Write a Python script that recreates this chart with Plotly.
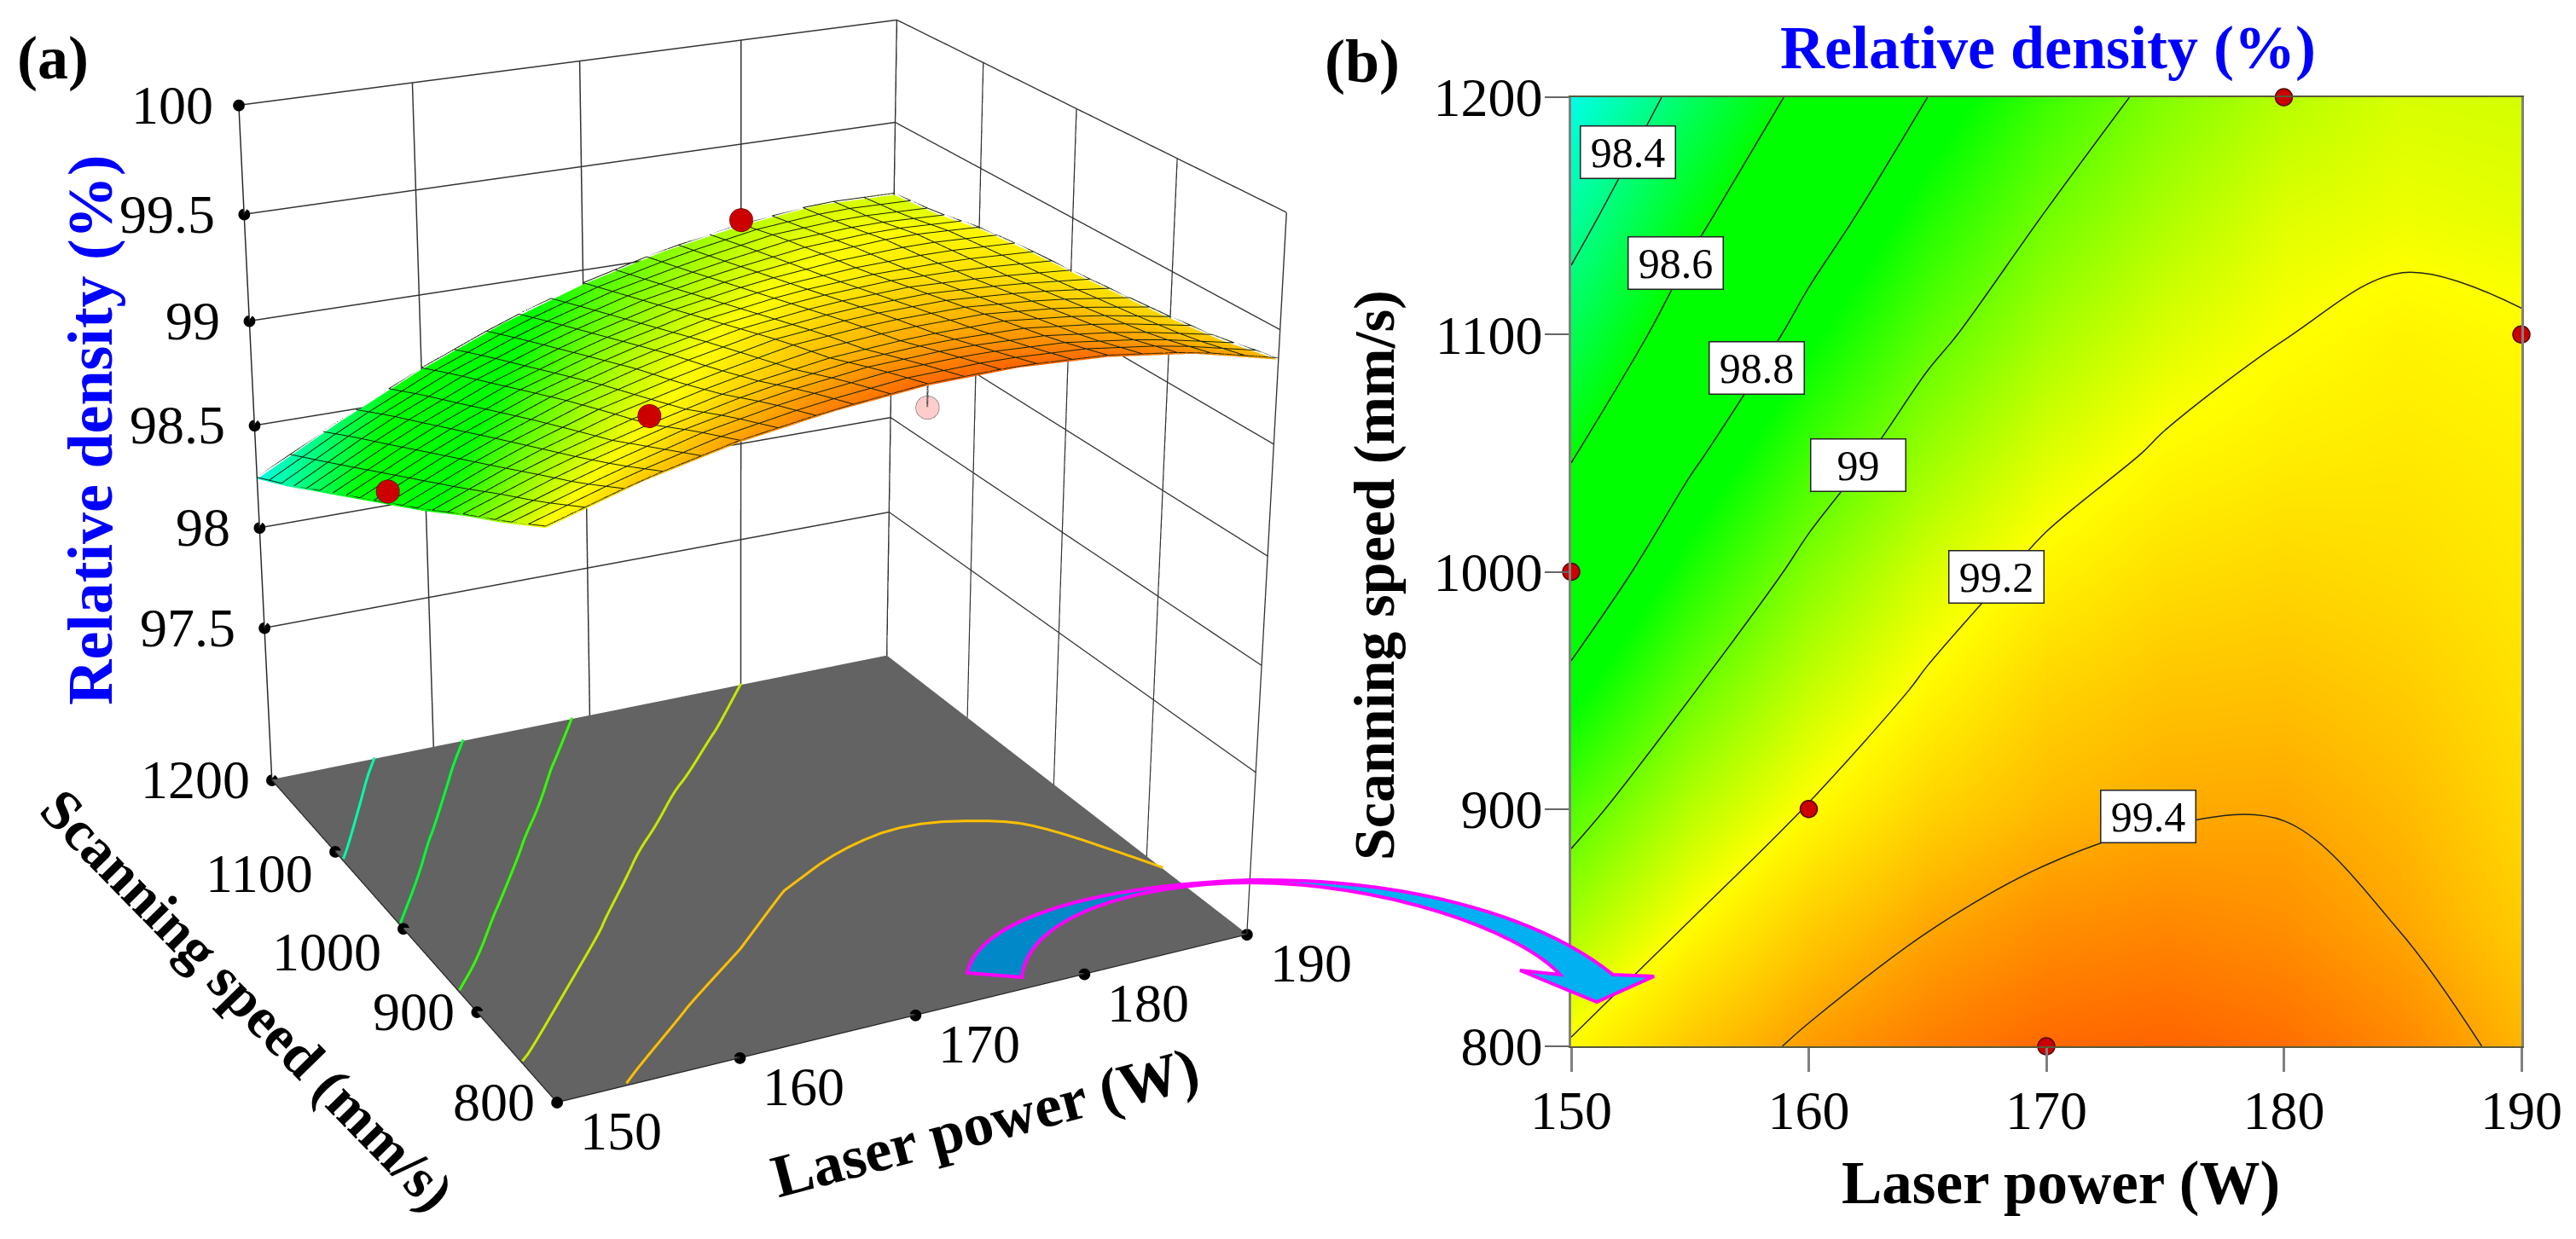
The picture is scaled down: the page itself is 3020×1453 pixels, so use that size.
import plotly.graph_objects as go

W, H = 3020, 1453
FIG_H, OFF = 3923, 1292
power = [150, 155, 160, 165, 170, 175, 180, 185, 190]
speed = [800, 850, 900, 950, 1000, 1050, 1100, 1150, 1200]
density = [
    [99.21, 99.33, 99.42, 99.48, 99.52, 99.53, 99.51, 99.46, 99.37],
    [99.08, 99.207, 99.318, 99.397, 99.445, 99.461, 99.445, 99.397, 99.32],
    [98.96, 99.10, 99.205, 99.30, 99.36, 99.39, 99.395, 99.358, 99.29],
    [98.83, 98.993, 99.12, 99.215, 99.298, 99.336, 99.343, 99.318, 99.27],
    [98.71, 98.886, 99.031, 99.143, 99.225, 99.274, 99.292, 99.278, 99.25],
    [98.59, 98.779, 98.935, 99.059, 99.151, 99.212, 99.24, 99.25, 99.235],
    [98.47, 98.671, 98.838, 98.974, 99.077, 99.15, 99.198, 99.225, 99.21],
    [98.35, 98.565, 98.742, 98.889, 99.004, 99.087, 99.155, 99.177, 99.165],
    [98.24, 98.45, 98.64, 98.80, 98.93, 99.03, 99.10, 99.145, 99.14],
]
color_levels = [98.2, 98.6, 98.85, 99.0, 99.2, 99.35, 99.55]
color_values = ["rgb(0,255,255)", "rgb(0,255,0)", "rgb(0,255,0)", "rgb(110,255,0)",
                "rgb(255,255,0)", "rgb(255,190,0)", "rgb(255,90,0)"]
design_p = [150, 160, 170, 180, 190]
design_s = [1000, 900, 800, 1200, 1100]
above_p = [150, 160, 180]
above_s = [1000, 900, 1200]
above_z = [98.77, 99.25, 99.13]
pink_p = [170]
pink_s = [800]
pink_z = [99.43]
pink_top = [99.52]
hidden_p = [190]
hidden_s = [1100]
hidden_z = [99.1]
z_ticks = [97.5, 98, 98.5, 99, 99.5, 100]
z_tick_text = ["97.5", "98", "98.5", "99", "99.5", "100"]
p_ticks = [150, 160, 170, 180, 190]
s_ticks = [800, 900, 1000, 1100, 1200]
s_label_drop = [0, 0, 27, 26, 0]
label_text = ["98.4", "98.6", "98.8", "99", "99.2", "99.4"]
label_p = [152.4, 154.4, 157.8, 162.1, 167.9, 174.3]
label_s = [1177, 1130, 1086, 1045, 998, 897]
floor_levels = [98.5, 98.7, 98.9, 99.1, 99.3]
floor_colors = ["#00ffaa", "#00ff30", "#30ff00", "#c8e800", "#ffc000"]
mesh_p = list(range(150, 191, 2))
mesh_s = list(range(800, 1201, 20))
ZMIN, ZMAX = 96.72, 100
SW = 1726

stops = [[(v-color_levels[0])/(color_levels[-1]-color_levels[0]), c] for v,c in zip(color_levels,color_values)]

def surface_at(p, s):
    i = min(int((p-power[0])/5), len(power)-2)
    j = min(int((s-speed[0])/50), len(speed)-2)
    u = (p-power[i])/5; v = (s-speed[j])/50
    return ((1-u)*(1-v)*density[j][i] + u*(1-v)*density[j][i+1]
            + (1-u)*v*density[j+1][i] + u*v*density[j+1][i+1])

def smooth(ch, n=2):
    for _ in range(n):
        out=[ch[0]]
        for a,b in zip(ch[:-1],ch[1:]):
            out.append((0.75*a[0]+0.25*b[0],0.75*a[1]+0.25*b[1]))
            out.append((0.25*a[0]+0.75*b[0],0.25*a[1]+0.75*b[1]))
        out.append(ch[-1])
        ch=out
    return ch

def iso_chains(level):
    level += 1e-4
    segs=[]
    Z=density
    for j in range(len(speed)-1):
        for i in range(len(power)-1):
            c=[(power[i],speed[j],Z[j][i]),(power[i+1],speed[j],Z[j][i+1]),(power[i+1],speed[j+1],Z[j+1][i+1]),(power[i],speed[j+1],Z[j+1][i])]
            pts=[]
            for k in range(4):
                a,b=c[k],c[(k+1)%4]
                if (a[2]-level)*(b[2]-level)<0:
                    t=(level-a[2])/(b[2]-a[2])
                    pts.append((round(a[0]+t*(b[0]-a[0]),4),round(a[1]+t*(b[1]-a[1]),3)))
            if len(pts)>=2:
                segs.append([pts[0],pts[1]])
    chains=[]
    while segs:
        ch=segs.pop(0)
        grew=True
        while grew:
            grew=False
            for s in segs:
                if s[0]==ch[-1]: ch.append(s[1])
                elif s[1]==ch[-1]: ch.append(s[0])
                elif s[0]==ch[0]: ch.insert(0,s[1])
                elif s[1]==ch[0]: ch.insert(0,s[0])
                else: continue
                segs.remove(s); grew=True; break
        chains.append(smooth(ch))
    return chains

flat = dict(ambient=1,diffuse=0,specular=0,roughness=1,fresnel=0)
fig = go.Figure()
fig.add_trace(go.Surface(x=[150,190],y=[800,1200],z=[[ZMIN+0.004]*2]*2,colorscale=[[0,"#636363"],[1,"#636363"]],showscale=False,lighting=flat))
fig.add_trace(go.Surface(x=power,y=speed,z=density,colorscale=stops,cmin=color_levels[0],cmax=color_levels[-1],showscale=False,lighting=flat))
LIFT = 0.008
mesh_line = dict(color="#102000",width=2)
for p in mesh_p:
    fig.add_trace(go.Scatter3d(x=[p]*len(mesh_s),y=mesh_s,z=[surface_at(p,s)+LIFT for s in mesh_s],mode="lines",line=mesh_line))
for s in mesh_s:
    fig.add_trace(go.Scatter3d(x=mesh_p,y=[s]*len(mesh_p),z=[surface_at(p,s)+LIFT for p in mesh_p],mode="lines",line=mesh_line))
for lv,col in zip(floor_levels,floor_colors):
    for ch in iso_chains(lv):
        fig.add_trace(go.Scatter3d(x=[c[0] for c in ch],y=[c[1] for c in ch],z=[ZMIN+0.01]*len(ch),mode="lines",line=dict(color=col,width=6)))
fig.add_trace(go.Scatter3d(x=hidden_p,y=hidden_s,z=hidden_z,mode="markers",marker=dict(size=16,color="#ffcccc",line=dict(color="#444",width=1))))
dot=dict(size=8,color="black")
fig.add_trace(go.Scatter3d(x=p_ticks,y=[800]*5,z=[ZMIN]*5,mode="markers",marker=dot))
fig.add_trace(go.Scatter3d(x=[150]*5,y=s_ticks,z=[ZMIN]*5,mode="markers",marker=dot))
fig.add_trace(go.Scatter3d(x=[150]*6,y=[1200]*6,z=z_ticks,mode="markers",marker=dot))
fig.add_trace(go.Scatter3d(x=pink_p*2,y=pink_s*2,z=pink_z+pink_top,mode="lines",line=dict(color="#444",width=4),scene="scene2"))
fig.add_trace(go.Scatter3d(x=above_p,y=above_s,z=above_z,mode="markers",scene="scene2",marker=dict(size=16,color="#cc0000",line=dict(color="#400",width=1))))
fig.add_trace(go.Scatter3d(x=pink_p,y=pink_s,z=pink_z,mode="markers",scene="scene2",marker=dict(size=16,color="#ffcccc",line=dict(color="#444",width=1))))

fig.add_trace(go.Heatmap(x=power,y=speed,z=density,colorscale=stops,zmin=color_levels[0],zmax=color_levels[-1],zsmooth="best",showscale=False,xaxis="x",yaxis="y"))
fig.add_trace(go.Contour(x=power,y=speed,z=density,showscale=False,xaxis="x",yaxis="y",
    contours=dict(coloring="none",start=98.4,end=99.4,size=0.2),line=dict(color="#222",width=1.5,smoothing=1.0)))
fig.add_trace(go.Scatter(x=design_p,y=design_s,mode="markers",cliponaxis=False,xaxis="x",yaxis="y",marker=dict(size=20,color="#cc0000",line=dict(color="#500",width=1.5))))

axis3d = dict(showbackground=True,backgroundcolor="white",gridcolor="#333333",gridwidth=3,showline=True,linecolor="#222",linewidth=2,
              ticks="",zeroline=False,showspikes=False,title=dict(text=""),showticklabels=False)
TF=dict(family="Liberation Serif",size=64,color="black")
scene_ann=[]
for v,t in zip(z_ticks,z_tick_text):
    scene_ann.append(dict(x=150,y=1200,z=v,text=t,showarrow=False,xanchor="right",xshift=-28 if v==100 else -32,font=TF))
for v,d in zip(s_ticks,s_label_drop):
    scene_ann.append(dict(x=150,y=v,z=ZMIN,text=str(v),showarrow=False,xanchor="right",xshift=-24,yshift=-d,font=TF))
for v in p_ticks:
    scene_ann.append(dict(x=v,y=800,z=ZMIN,text=str(v),showarrow=False,xanchor="left",xshift=25,yshift=-34,font=TF))
def py(y): return 1-(y+OFF)/FIG_H
camera=dict(eye=dict(x=-2.2028,y=-4.4873,z=2.0141),center=dict(x=-0.0281,y=-0.0442,z=-0.0548),up=dict(x=0,y=0,z=1),projection=dict(type="perspective"))
aspect=dict(x=1,y=1.016,z=1.0025)
hide=dict(visible=False,showbackground=False,showgrid=False,zeroline=False,showline=False,showticklabels=False,showspikes=False)
fig.update_layout(
    template="none",width=W,height=FIG_H,margin=dict(l=0,r=0,t=0,b=0,autoexpand=False),paper_bgcolor="white",plot_bgcolor="white",showlegend=False,
    scene=dict(domain=dict(x=[0,SW/W],y=[0,1]),aspectmode="manual",aspectratio=aspect,annotations=scene_ann,camera=camera,
        xaxis=dict(axis3d,range=[150,190],tickvals=p_ticks),
        yaxis=dict(axis3d,range=[800,1200],tickvals=s_ticks),
        zaxis=dict(axis3d,range=[ZMIN,ZMAX],tickvals=z_ticks,backgroundcolor="#636363")),
    scene2=dict(domain=dict(x=[0,SW/W],y=[0,1]),aspectmode="manual",aspectratio=aspect,camera=camera,bgcolor="rgba(0,0,0,0)",
        xaxis=dict(hide,range=[150,190]),yaxis=dict(hide,range=[800,1200]),zaxis=dict(hide,range=[ZMIN,ZMAX])),
    xaxis=dict(domain=[1842/W,2956/W],range=[150,190],tickvals=p_ticks,ticks="outside",ticklen=28,tickwidth=2.5,tickcolor="#808080",ticklabelstandoff=-10,showgrid=False,zeroline=False,automargin=False,
               showline=True,mirror=True,linecolor="#5a5a3a",linewidth=2,tickfont=TF),
    yaxis=dict(domain=[py(1227),py(114)],range=[800,1200],tickvals=s_ticks,ticks="outside",ticklen=28,tickwidth=2,tickcolor="#666",ticklabelstandoff=-10,showgrid=False,zeroline=False,automargin=False,
               showline=True,mirror=True,linecolor="#808080",linewidth=2.5,tickfont=TF),
)
ann=[]
def text(t,x,y,size,color="black",angle=0):
    ann.append(dict(text=f"<b>{t}</b>",x=x/W,y=py(y),xref="paper",yref="paper",xanchor="center",yanchor="middle",showarrow=False,textangle=angle,
                    font=dict(family="Liberation Serif",size=size,color=color)))
text("(a)",62,68,72); text("(b)",1597,72,72)
text("Relative density (%)",2401,56,72,"#0000ff")
text("Laser power (W)",2416,1387,71)
text("Scanning speed (mm/s)",1611,674,68,angle=-90)
text("Relative density (%)",106,505,74,"#0000ff",angle=-90)
text("Scanning speed (mm/s)",290,1172,67,angle=45.7)
text("Laser power (W)",1155,1316,71,angle=-14.7)
for t,p,s in zip(label_text,label_p,label_s):
    ann.append(dict(text=t,x=p,y=s,xref="x",yref="y",showarrow=False,bgcolor="white",bordercolor="#222",borderwidth=1.5,width=108,height=58,
                    font=dict(family="Liberation Serif",size=50,color="black")))
fig.update_layout(annotations=ann)

def p_path(s):
    out=[]
    for tok in s.split():
        if tok[0] in "MCLZ":
            out.append(tok[0]); tok=tok[1:]
            if not tok: continue
        x,y=tok.split(",")
        out.append(f"{float(x)/W:.5f},{py(float(y)):.5f}")
    return " ".join(out)
tail="M1134,1141 C1145,1085 1260,1040 1465,1032 L1465,1035 C1330,1036 1205,1075 1198,1146 Z"
head="M1465,1032 C1640,1030 1800,1070 1891,1143 L1939,1145 L1872,1175 L1782,1138 L1829,1143 C1780,1090 1620,1035 1465,1035 Z"
fig.update_layout(shapes=[
    dict(type="path",path=p_path(tail),xref="paper",yref="paper",fillcolor="#0088c8",line=dict(color="#ff00ff",width=4),layer="above"),
    dict(type="path",path=p_path(head),xref="paper",yref="paper",fillcolor="#00b0f0",line=dict(color="#ff00ff",width=4),layer="above"),
])
fig.write_html("out.html",config=dict(displayModeBar=False),
    post_script=f"var g=document.querySelector('.plotly-graph-div');document.body.style.margin='0';g.style.position='absolute';g.style.left='0';g.style.top='-{OFF}px';document.documentElement.style.overflow='hidden';document.body.style.overflow='hidden';")
